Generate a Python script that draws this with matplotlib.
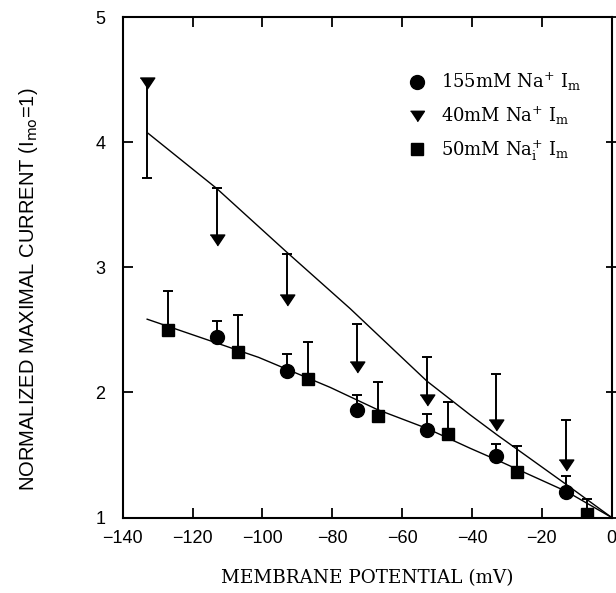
import matplotlib
matplotlib.use("Agg")
import matplotlib.pyplot as plt
from matplotlib.lines import Line2D
from matplotlib.font_manager import FontProperties
import numpy as np

# valores
# 155mM Na+ (circulos), barra de error hacia arriba
v_circ = [-113, -93, -73, -53, -33, -13]
i_circ = [2.44, 2.17, 1.86, 1.70, 1.49, 1.20]
e_circ = [0.13, 0.14, 0.12, 0.13, 0.10, 0.13]

# 40mM Na+ (triangulos), la primera barra va hacia abajo
v_tri = [-133, -113, -93, -73, -53, -33, -13]
i_tri = [4.47, 3.22, 2.74, 2.20, 1.94, 1.74, 1.42]
e_tri_lo = [0.76, 0, 0, 0, 0, 0, 0]
e_tri_hi = [0, 0.41, 0.37, 0.35, 0.34, 0.41, 0.36]

# 50mM Na_i+ (cuadrados)
v_sq = [-127, -107, -87, -67, -47, -27, -7]
i_sq = [2.50, 2.32, 2.11, 1.81, 1.67, 1.36, 1.03]
e_sq = [0.31, 0.30, 0.29, 0.27, 0.25, 0.21, 0.12]

# curvas de ajuste (leidas punto a punto)
fit_hi_v = [-132.7, -113.1, -93.0, -74.9, -58.6, -52.9, -40.5, -32.8, -12.8, 0]
fit_hi_i = [4.07, 3.63, 3.12, 2.67, 2.24, 2.09, 1.82, 1.66, 1.26, 1.00]
fit_lo_v = [-133.0, -101.1, -80.6, -67.2, -52.9, -40.5, -32.8, -12.8, 0]
fit_lo_i = [2.585, 2.28, 2.04, 1.864, 1.712, 1.553, 1.459, 1.206, 1.00]

x_ticks = [-140, -120, -100, -80, -60, -40, -20, 0]
y_ticks = [1, 2, 3, 4, 5]

labels = [r"155mM Na$^{+}$ I$_{\rm m}$",
          r"40mM Na$^{+}$ I$_{\rm m}$",
          r"50mM Na$_{\rm i}^{+}$ I$_{\rm m}$"]

tri_marker = [(-1, 0.75), (1, 0.75), (0, -0.75)]

fig = plt.figure(figsize=(6.16, 5.93), dpi=100)
ax = fig.add_axes([0.1992, 0.1273, 0.7938, 0.844])

ax.plot(fit_hi_v, fit_hi_i, color="black", lw=1.0, zorder=2)
ax.plot(fit_lo_v, fit_lo_i, color="black", lw=1.0, zorder=2)

# barras de error de un solo lado + tapas con marker '_'
def barras(v, y, lo, hi):
    v = np.array(v); y = np.array(y); lo = np.array(lo); hi = np.array(hi)
    ax.errorbar(v, y, yerr=[lo, hi], fmt="none", ecolor="black", elinewidth=1.4, capsize=0, zorder=3)
    ends = np.where(hi > 0, y + hi, y - lo)
    ax.plot(v, ends, linestyle="none", marker="_", ms=7, mew=1.4, color="black", zorder=3)

barras(v_circ, i_circ, np.zeros(len(e_circ)), e_circ)
barras(v_tri, i_tri, e_tri_lo, e_tri_hi)
barras(v_sq, i_sq, np.zeros(len(e_sq)), e_sq)

ax.plot(v_circ, i_circ, linestyle="none", marker="o", ms=10, color="black", zorder=4)
ax.plot(v_tri, i_tri, linestyle="none", marker=tri_marker, ms=10.5, color="black", zorder=4)
ax.plot(v_sq, i_sq, linestyle="none", marker="s", ms=9, color="black", zorder=4)

ax.set_xlim(-140, 0)
ax.set_ylim(1, 5)
ax.set_xticks(x_ticks)
ax.set_yticks(y_ticks)

for s in ax.spines.values():
    s.set_linewidth(1.5)

ax.tick_params(axis="x", which="both", direction="in", length=7, width=1.3, top=True, pad=9,
               labelsize=13, labelfontfamily="Liberation Sans")
ax.tick_params(axis="y", which="both", direction="in", length=7, width=1.3, pad=8,
               labelsize=13, labelfontfamily="Liberation Sans")
ax.tick_params(axis="y", right=True, direction="inout", length=9)
ax.tick_params(axis="y", left=True)
for t in ax.yaxis.get_major_ticks():
    t.tick1line.set_markersize(7)
    t.tick1line.set_marker(matplotlib.lines.TICKRIGHT)

ax.set_xlabel("MEMBRANE POTENTIAL (mV)", family="DejaVu Serif", fontsize=13.2)
ax.xaxis.set_label_coords(0.5, -0.103)
ax.set_ylabel(r"NORMALIZED MAXIMAL CURRENT (I$_{\rm mo}$=1)", family="Liberation Sans",
              fontsize=14.5, math_fontfamily="dejavusans")
ax.yaxis.set_label_coords(-0.17, 0.455)

handles = [Line2D([], [], linestyle="none", marker="o", ms=10, color="black"),
           Line2D([], [], linestyle="none", marker=tri_marker, ms=10, color="black"),
           Line2D([], [], linestyle="none", marker="s", ms=8.5, color="black")]
prop = FontProperties(family="DejaVu Serif", size=13, math_fontfamily="dejavuserif")
ax.legend(handles, labels, loc="upper left", bbox_to_anchor=(0.583, 0.892), frameon=False,
          handlelength=1.0, handletextpad=0.85, labelspacing=0.62, borderaxespad=0,
          borderpad=0, prop=prop)

fig.savefig("out.png", dpi=100)
